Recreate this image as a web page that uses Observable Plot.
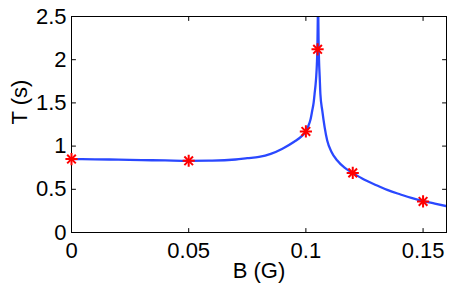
<!DOCTYPE html>
<html>
<head>
<meta charset="utf-8">
<script src="https://cdn.jsdelivr.net/npm/d3@7"></script>
<script src="https://cdn.jsdelivr.net/npm/@observablehq/plot@0.6"></script>
<style>
  html, body { margin: 0; padding: 0; background: #fff; }
  svg { display: block; }
</style>
</head>
<body>
<div id="chart"></div>
<script>
// Curve left of the resonance
const bLeft = [0, 0.01, 0.02, 0.03, 0.04, 0.05, 0.06, 0.07, 0.075, 0.08, 0.085, 0.09, 0.095, 0.098, 0.1, 0.101, 0.102, 0.1027, 0.1033, 0.1037, 0.1041, 0.1044, 0.1047, 0.1049, 0.105, 0.1051];
const tLeft = [0.85, 0.847, 0.843, 0.838, 0.834, 0.830, 0.832, 0.845, 0.86, 0.875, 0.91, 0.97, 1.05, 1.11, 1.17, 1.23, 1.31, 1.41, 1.50, 1.60, 1.70, 1.80, 1.95, 2.12, 2.3, 2.5];
// Curve right of the resonance
const bRight = [0.1053, 0.1054, 0.1056, 0.1059, 0.1062, 0.107, 0.108, 0.1091, 0.111, 0.1134, 0.1165, 0.12, 0.125, 0.1304, 0.135, 0.1404, 0.145, 0.1503, 0.155, 0.16];
const tRight = [2.5, 2.25, 2.0, 1.8, 1.6, 1.41, 1.22, 1.065, 0.93, 0.833, 0.75, 0.69, 0.61, 0.544, 0.49, 0.44, 0.40, 0.362, 0.335, 0.305];
// Measured points (stars)
const bStar = [0, 0.05, 0.1, 0.105, 0.12, 0.15];
const tStar = [0.85, 0.83, 1.17, 2.12, 0.69, 0.36];
// Ticks
const xTicks = [0, 0.05, 0.1, 0.15];
const yTicks = [0, 0.5, 1, 1.5, 2, 2.5];

const curve = [
  ...bLeft.map((b, i) => ({b, t: tLeft[i], branch: "left"})),
  ...bRight.map((b, i) => ({b, t: tRight[i], branch: "right"}))
];
const stars = bStar.map((b, i) => ({b, t: tStar[i]}));

const tickShape = {draw(context, l) { context.moveTo(0, 0); context.lineTo(0, -l); }};
const tickOpts = {length: 4, anchor: "start", shape: tickShape, stroke: "black", strokeWidth: 1};

const font = "'Liberation Sans', Arial, Helvetica, sans-serif";

const chart = Plot.plot({
  width: 450,
  height: 288,
  marginLeft: 71,
  marginRight: 4,
  marginTop: 16,
  marginBottom: 56,
  style: {fontFamily: font, fontSize: "22px", color: "black", background: "white"},
  x: {domain: [0, 0.16]},
  y: {domain: [0, 2.5]},
  marks: [
    Plot.line(curve, {x: "b", y: "t", z: "branch", stroke: "#2a48ff", strokeWidth: 2.3, curve: "monotone-x", clip: true}),
    Plot.frame({stroke: "black", strokeWidth: 1}),
    Plot.vector(xTicks, {x: d => d, frameAnchor: "bottom", rotate: 0, ...tickOpts}),
    Plot.vector(xTicks, {x: d => d, frameAnchor: "top", rotate: 180, ...tickOpts}),
    Plot.vector(yTicks, {y: d => d, frameAnchor: "left", rotate: 90, ...tickOpts}),
    Plot.vector(yTicks, {y: d => d, frameAnchor: "right", rotate: -90, ...tickOpts}),
    Plot.axisX(xTicks, {tickSize: 0, tickPadding: 10, tickFormat: d => String(d), label: null, fontSize: 22}),
    Plot.axisY(yTicks, {tickSize: 0, tickPadding: 5, tickFormat: d => String(d), label: null, fontSize: 22}),
    Plot.text(["B (G)"], {frameAnchor: "bottom", dy: 30, lineAnchor: "top", fontSize: 22}),
    Plot.text(["T (s)"], {frameAnchor: "left", dx: -52, rotate: -90, fontSize: 22}),
    Plot.dot(stars, {x: "b", y: "t", symbol: "plus", r: 4, stroke: "red", strokeWidth: 2}),
    Plot.dot(stars, {x: "b", y: "t", symbol: "times", r: 4, stroke: "red", strokeWidth: 2})
  ]
});
document.getElementById("chart").appendChild(chart);
</script>
</body>
</html>
